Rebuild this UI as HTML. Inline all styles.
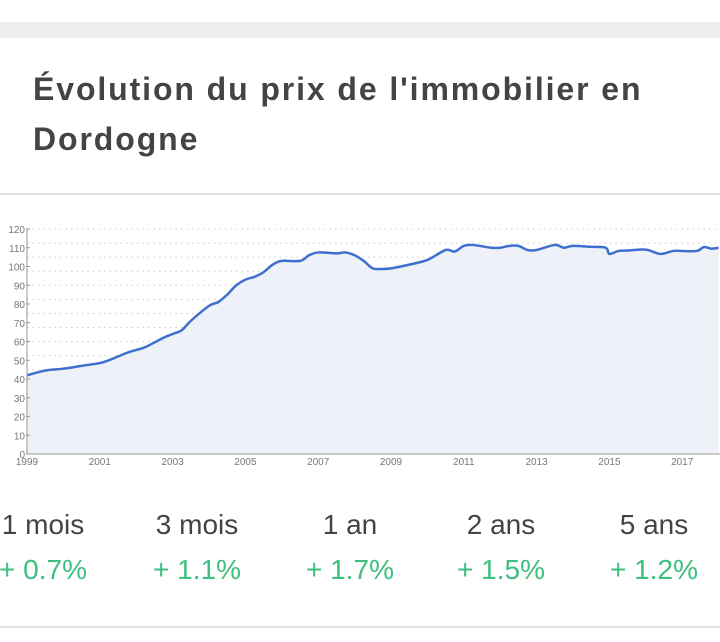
<!DOCTYPE html>
<html><head><meta charset="utf-8">
<style>
body{margin:0;width:720px;height:642px;background:#fff;position:relative;overflow:hidden;font-family:"Liberation Sans",sans-serif}
.band{position:absolute;left:0;top:22px;width:720px;height:16px;background:#eeeeee}
h1{position:absolute;left:33px;top:64px;margin:0;font-size:32px;line-height:50px;font-weight:bold;color:#444;width:670px;letter-spacing:1.9px}
.sep{position:absolute;left:0;width:720px;height:2px;background:#e2e2e2}
.stat{position:absolute;width:150px;text-align:center}
.lab{position:absolute;top:509px;font-size:28px;color:#444}
.val{position:absolute;top:554px;font-size:28px;color:#3dbf7f}
</style></head><body>
<div class="band"></div>
<h1>Évolution du prix de l'immobilier en Dordogne</h1>
<div class="sep" style="top:193px"></div>
<svg id="chart" width="720" height="290" style="position:absolute;left:0;top:215px"></svg>
<div class="stat lab" style="left:-32px">1 mois</div>
<div class="stat val" style="left:-32px">+ 0.7%</div>
<div class="stat lab" style="left:122px">3 mois</div>
<div class="stat val" style="left:122px">+ 1.1%</div>
<div class="stat lab" style="left:275px">1 an</div>
<div class="stat val" style="left:275px">+ 1.7%</div>
<div class="stat lab" style="left:426px">2 ans</div>
<div class="stat val" style="left:426px">+ 1.5%</div>
<div class="stat lab" style="left:579px">5 ans</div>
<div class="stat val" style="left:579px">+ 1.2%</div>
<div class="sep" style="top:626px"></div>
<script>
const years=[1999,1999.5,2000,2000.5,2001,2001.25,2001.75,2002,2002.25,2002.75,2003,2003.25,2003.5,2004,2004.25,2004.5,2004.75,2005,2005.25,2005.5,2005.75,2006,2006.5,2006.75,2007,2007.5,2007.75,2008,2008.25,2008.5,2008.75,2009,2009.5,2010,2010.5,2010.75,2011,2011.25,2011.75,2012,2012.25,2012.5,2012.75,2013,2013.5,2013.75,2014,2014.5,2014.9,2015,2015.25,2015.5,2016,2016.4,2016.75,2017,2017.4,2017.6,2017.8,2018];
const prices=[42,44.5,45.5,47,48.5,50,54,55.5,57,62,64,66,71,79,81,85,90,93,94.5,97,101,103,103,106,107.5,107,107.5,106,103,99,98.7,99,101,103.5,108.8,108,111,111.5,110,110,111,111,108.8,108.8,111.5,110,111,110.5,110,106.7,108.3,108.5,109,106.7,108.3,108.3,108.3,110.4,109.5,110];
const yTicks=[0,10,20,30,40,50,60,70,80,90,100,110,120];
const xTicks=[1999,2001,2003,2005,2007,2009,2011,2013,2015,2017];
const NS="http://www.w3.org/2000/svg",svg=document.getElementById('chart');
const X0=27,Y0=239,PXY=36.4,PXV=225/120;
const x=v=>X0+(v-1999)*PXY, y=v=>Y0-v*PXV;
function mk(t,a){const e=document.createElementNS(NS,t);for(const k in a)e.setAttribute(k,a[k]);svg.appendChild(e);return e;}
for(let g=7.5;g<=120;g+=7.5){const l=mk('line',{x1:X0,x2:720,y1:y(g),y2:y(g),stroke:'#ccc','stroke-dasharray':'1.5,4'});

}
const pts=years.map((yr,i)=>[x(yr),y(prices[i])]);
function smooth(p){let s='M'+p[0][0]+','+p[0][1];for(let i=0;i<p.length-1;i++){const p0=p[i-1]||p[i],p1=p[i],p2=p[i+1],p3=p[i+2]||p2;
const c1=[p1[0]+(p2[0]-p0[0])/6,p1[1]+(p2[1]-p0[1])/6],c2=[p2[0]-(p3[0]-p1[0])/6,p2[1]-(p3[1]-p1[1])/6];
s+=' C'+c1+' '+c2+' '+p2;}return s;}
const sp=smooth(pts);
const area=mk('path',{d:sp+' L'+pts[pts.length-1][0]+','+Y0+' L'+pts[0][0]+','+Y0+'Z',fill:'#eef1f8'});


const line=mk('path',{d:sp,fill:'none',stroke:'#3e6fce','stroke-width':2.5,'stroke-linejoin':'round'});


const ax=mk('line',{x1:X0,x2:X0,y1:y(120),y2:Y0,stroke:'#999'});


const bx=mk('line',{x1:X0,x2:720,y1:Y0,y2:Y0,stroke:'#999'});


yTicks.forEach(v=>{const t=mk('text',{x:X0-2,y:y(v)+4,'text-anchor':'end','font-size':10,fill:'#777','font-family':'Liberation Sans, sans-serif'});t.textContent=v;


const tk=mk('line',{x1:X0-1,x2:X0+3,y1:y(v),y2:y(v),stroke:'#999'});

});
xTicks.forEach(v=>{const t=mk('text',{x:x(v),y:Y0+11,'text-anchor':'middle','font-size':10,fill:'#777','font-family':'Liberation Sans, sans-serif'});t.textContent=v;

});
</script>
</body></html>
